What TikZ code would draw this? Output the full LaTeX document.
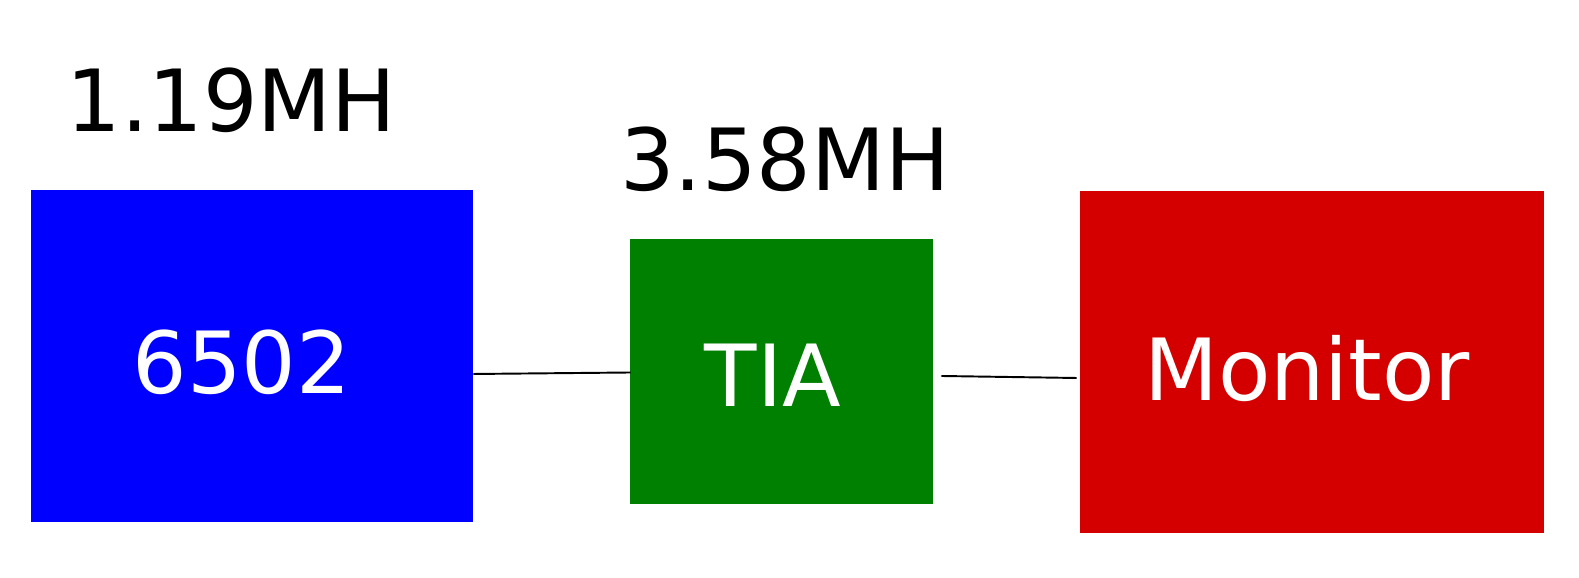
\documentclass[tikz,border=0pt]{standalone}
\usepackage{fontspec}
\setmainfont{DejaVu Sans}
\usepackage{xcolor}
\usepackage{tikz}
\definecolor{chipblue}{RGB}{0, 0, 255}
\definecolor{chipgreen}{RGB}{0, 128, 0}
\definecolor{chipred}{RGB}{212, 0, 0}

\tikzset{
    chip/.style={rectangle, inner sep=0pt, draw=none},
    chiplabel/.style={anchor=base, inner sep=0pt, text=white, font=\fontsize{48.8}{58}\selectfont},
    clocklabel/.style={anchor=base, inner sep=0pt, text=black, font=\fontsize{48.8}{58}\selectfont},
    wire/.style={draw=black, line width=1.1pt}
}

\begin{document}
\begin{tikzpicture}
        \useasboundingbox (0,0) rectangle (31.58,11.56);

        % Chips
        \node[chip, fill=chipblue, minimum width=8.84cm, minimum height=6.64cm] (cpu) at (5.04,4.44) {};
        \node[chip, fill=chipgreen, minimum width=6.06cm, minimum height=5.3cm] (tia) at (15.63,4.13) {};
        \node[chip, fill=chipred, minimum width=9.28cm, minimum height=6.84cm] (monitor) at (26.24,4.32) {};

        \node[chiplabel] (cpulabel) at (4.84,3.68) {6502};
        \node[chiplabel] (tialabel) at (15.46,3.426) {TIA};
        \node[chiplabel] (monitorlabel) at (26.14,3.546) {Monitor};

        % Clock rates
        \node[clocklabel] (cpuclock) at (4.63,8.926) {1.19MH};
        \node[clocklabel] (tiaclock) at (15.7,7.74) {3.58MH};

        % Wires
        \draw[wire] ([yshift=-0.36cm]cpu.east) -- ([xshift=0.02cm,yshift=-0.02cm]tia.west);
        \draw[wire] ([xshift=0.16cm,yshift=-0.09cm]tia.east) -- ([xshift=-0.06cm,yshift=-0.32cm]monitor.west);
    \end{tikzpicture}
\end{document}
